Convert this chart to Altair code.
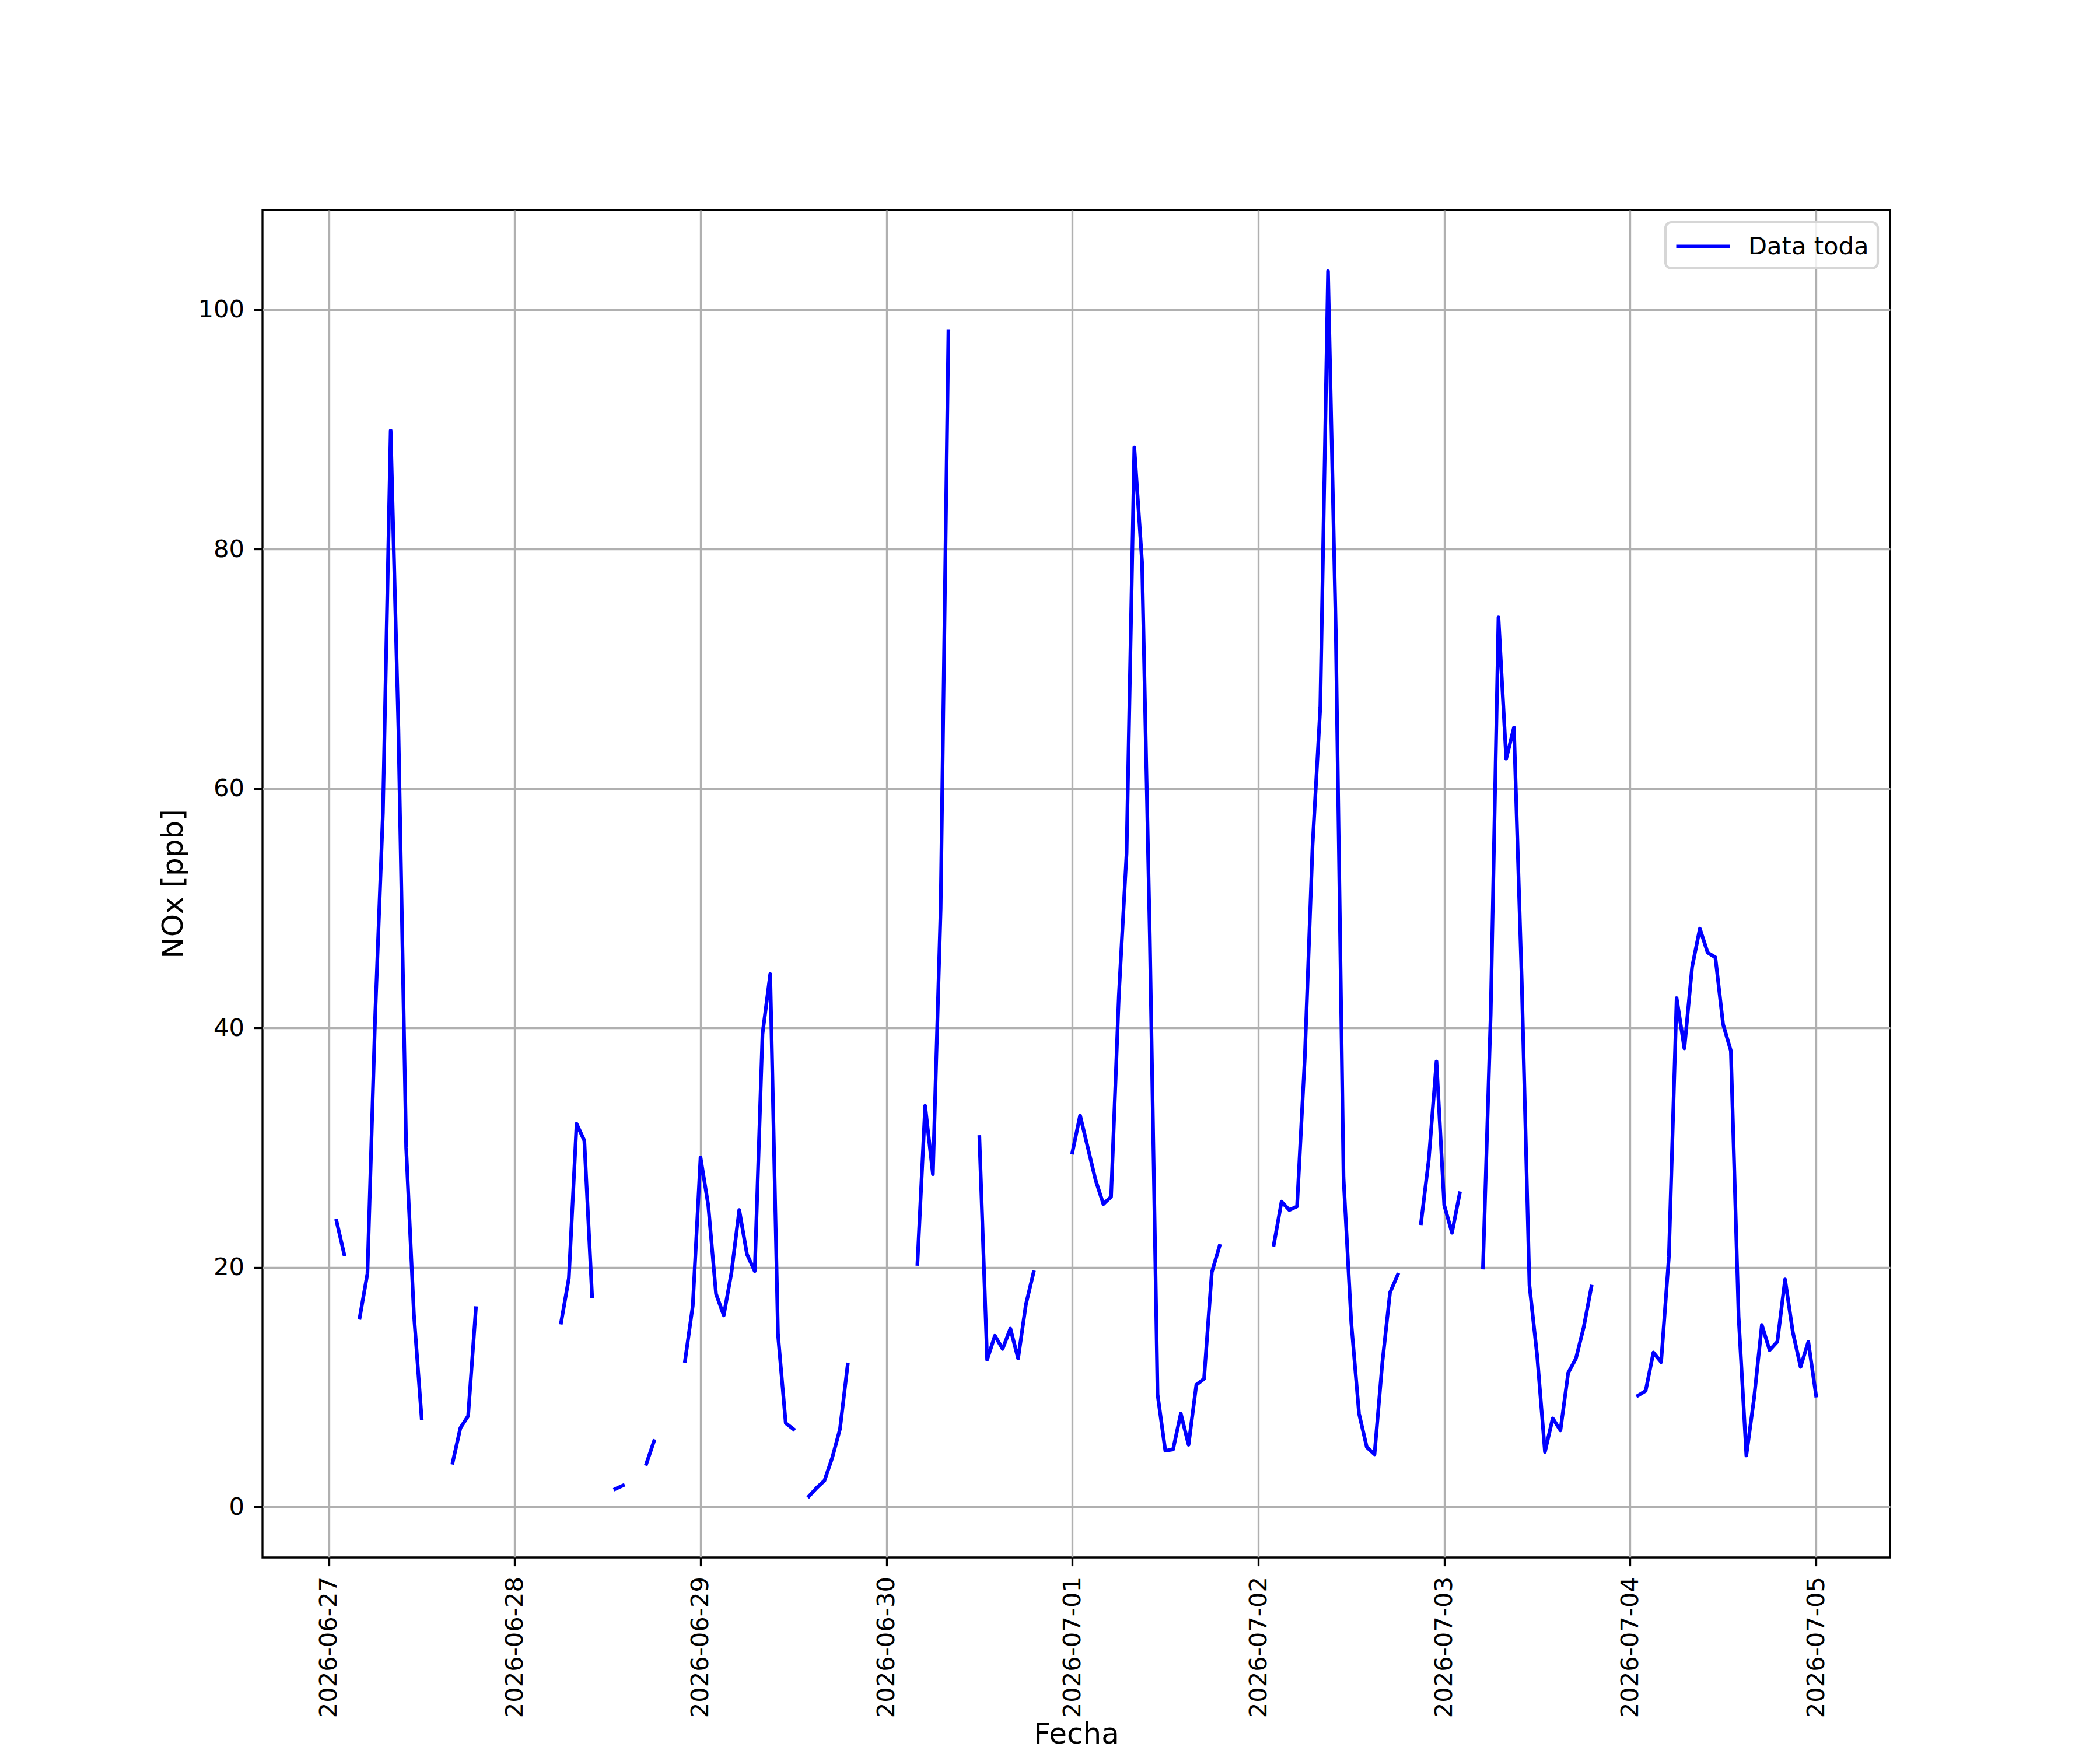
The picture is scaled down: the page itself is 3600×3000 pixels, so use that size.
import altair as alt
import pandas as pd

# Hourly NOx values [ppb] from 2026-06-27 00:00 (hour 0) to 2026-07-05 00:00 (hour 192); None = missing
dia_0627 = [None, 23.9, 21.1, None, 15.8, 19.5, 41.0, 58.0, 89.9, 65.0, 30.0, 16.1,
            7.4, None, None, None, 3.7, 6.6, 7.6, 16.6, None, None, None, None]
dia_0628 = [None, None, None, None, None, None, 15.4, 19.1, 32.0, 30.6, 17.6, None,
            None, 1.5, 1.8, None, None, 3.6, 5.5, None, None, None, 12.2, 16.8]
dia_0629 = [29.2, 25.2, 17.8, 16.0, 19.6, 24.8, 21.1, 19.7, 39.5, 44.5, 14.4, 7.0,
            6.5, None, 0.9, 1.6, 2.2, 4.1, 6.5, 11.9, None, None, None, None]
dia_0630 = [None, None, None, None, 20.3, 33.5, 27.8, 50.0, 98.2, None, None, None,
            30.9, 12.3, 14.3, 13.2, 14.9, 12.4, 16.9, 19.6, None, None, None, None]
dia_0701 = [29.6, 32.7, 30.0, 27.3, 25.3, 25.9, 42.7, 54.6, 88.5, 78.9, 47.6, 9.4,
            4.7, 4.8, 7.8, 5.2, 10.2, 10.7, 19.6, 21.8, None, None, None, None]
dia_0702 = [None, None, 21.9, 25.5, 24.8, 25.1, 37.5, 55.2, 66.8, 103.2, 73.3, 27.5,
            15.4, 7.8, 5.0, 4.4, 12.0, 17.9, 19.4, None, None, 23.7, 29.0, 37.2]
dia_0703 = [25.2, 22.9, 26.2, None, None, 20.0, 41.2, 74.3, 62.5, 65.1, 44.0, 18.5,
            12.6, 4.6, 7.4, 6.4, 11.2, 12.4, 15.0, 18.4, None, None, None, None]
dia_0704 = [None, 9.3, 9.7, 12.9, 12.1, 20.9, 42.5, 38.3, 45.1, 48.3, 46.3, 45.9,
            40.3, 38.1, 15.9, 4.3, 9.1, 15.2, 13.1, 13.8, 19.0, 14.6, 11.7, 13.8]
dia_0705 = [9.3]

inicio = pd.Timestamp("2026-06-27 00:00:00")
nox = dia_0627 + dia_0628 + dia_0629 + dia_0630 + dia_0701 + dia_0702 + dia_0703 + dia_0704 + dia_0705
fechas = [inicio + pd.Timedelta(hours=h) for h in range(len(nox))]

x_ticks = pd.date_range("2026-06-27", "2026-07-05", freq="D")
y_ticks = [0, 20, 40, 60, 80, 100]

# build table, splitting into contiguous segments at missing values
rows = []
seg = 0
prev_valid = False
for f, v in zip(fechas, nox):
    if v is None:
        prev_valid = False
        continue
    if not prev_valid:
        seg += 1
    prev_valid = True
    rows.append({"fecha": f.strftime("%Y-%m-%dT%H:%M:%S"), "nox": v, "seg": seg, "serie": "Data toda"})
df = pd.DataFrame(rows)

# matplotlib-like 5% margins
t_valid = [f for f, v in zip(fechas, nox) if v is not None]
tmin, tmax = min(t_valid), max(t_valid)
tm = (tmax - tmin) * 0.05
d0, d1 = tmin - tm, tmax + tm
vals = [v for v in nox if v is not None]
vmin, vmax = min(vals), max(vals)
vm = (vmax - vmin) * 0.05


def dt(t):
    return alt.DateTime(year=t.year, month=t.month, date=t.day,
                        hours=t.hour, minutes=t.minute, seconds=t.second)


FONT = "DejaVu Sans"
FS = 41.67      # 10 pt at 300 dpi
FT = 50.0       # 12 pt at 300 dpi
LW = 3.33

x_axis = alt.Axis(
    values=[dt(t) for t in x_ticks], format="%Y-%m-%d", labelAngle=270,
    labelAlign="right", labelBaseline="middle", title="Fecha",
    grid=True, gridColor="#b0b0b0", gridWidth=LW, domain=False,
    ticks=True, tickColor="black", tickWidth=LW, tickSize=14.6,
    labelPadding=18, labelFont=FONT, labelFontSize=FS, labelColor="black", labelLimit=0,
    titleFont=FONT, titleFontSize=FT, titleFontWeight="normal", titleColor="black",
    titleY=318, titleBaseline="alphabetic", labelOverlap=False, labelFlush=False,
)
y_axis = alt.Axis(
    values=y_ticks, title="NOx [ppb]",
    grid=True, gridColor="#b0b0b0", gridWidth=LW, domain=False,
    ticks=True, tickColor="black", tickWidth=LW, tickSize=14.6,
    labelPadding=17, labelFont=FONT, labelFontSize=FS, labelColor="black", labelLimit=0,
    titleFont=FONT, titleFontSize=FT, titleFontWeight="normal", titleColor="black",
    titlePadding=16, labelOverlap=False, labelFlush=False,
)

chart = alt.Chart(df).mark_line(
    strokeWidth=6.25, strokeCap="square", strokeJoin="round", clip=True
).encode(
    x=alt.X("fecha:T", scale=alt.Scale(domain=[dt(d0), dt(d1)], nice=False), axis=x_axis),
    y=alt.Y("nox:Q", scale=alt.Scale(domain=[vmin - vm, vmax + vm], nice=False, zero=False), axis=y_axis),
    detail="seg:N",
    color=alt.Color("serie:N", scale=alt.Scale(domain=["Data toda"], range=["#0000ff"]),
                    legend=alt.Legend(
                        title=None, orient="top-right", offset=20.8, padding=15,
                        strokeColor="#d6d6d6", cornerRadius=10,
                        fillColor="rgba(255,255,255,0.8)",
                        labelFont=FONT, labelFontSize=FS, labelColor="black", labelOffset=74,
                        labelLimit=1000,
                        symbolType="M-1,0H3", symbolSize=2116, symbolStrokeWidth=6.25,
                        symbolStrokeColor="#0000ff",
                    )),
).properties(
    width=2790, height=2310,
    autosize=alt.AutoSizeParams(type="none"),
    padding={"left": 442, "top": 352, "right": 300, "bottom": 330},
    background="white",
).configure_view(
    stroke="black", strokeWidth=LW
).configure_legend(
    strokeWidth=4.2
)

chart.save("out.html", embed_options={"renderer": "svg", "actions": False})
